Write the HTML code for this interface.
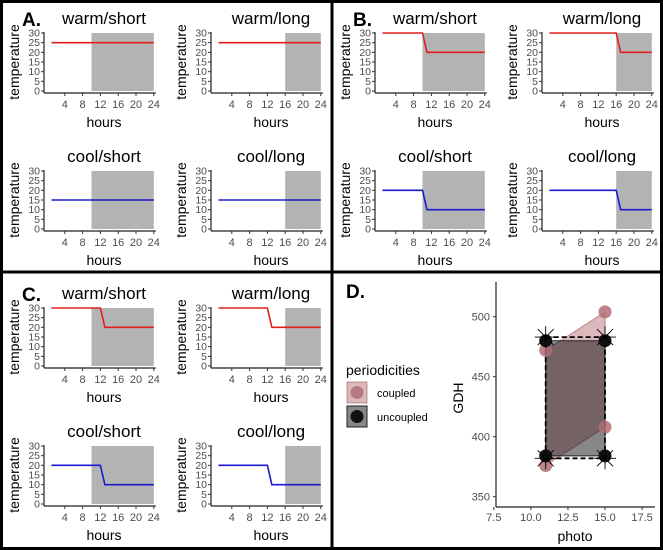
<!DOCTYPE html>
<html><head><meta charset="utf-8">
<style>
html,body{margin:0;padding:0;background:#fff;}
svg{display:block;font-family:"Liberation Sans",sans-serif;}
</style></head>
<body>
<svg id="fig" width="663" height="550" viewBox="0 0 663 550" xmlns="http://www.w3.org/2000/svg">
<rect x="0" y="0" width="663" height="550" fill="#fff"/>
<g id="panels"></g>
<g id="pd"></g>
<g fill="none" stroke="#000" stroke-width="3">
<rect x="1.5" y="1.5" width="660" height="547"/>
<line x1="332" y1="0" x2="332" y2="550"/>
<line x1="0" y1="272" x2="663" y2="272"/>
</g>
</svg>
<script>
const NS="http://www.w3.org/2000/svg";
// ---- temperature panels data ----
const panelLabels=["A.","B.","C."];
const subTitles=["warm/short","warm/long","cool/short","cool/long"];
const yTicks=[0,5,10,15,20,25,30];
const xTicks=[4,8,12,16,20,24];
const nightStartShort=10;
const nightStartLong=16;
// Panel A series
const aHours=[1,24];
const aWarm=[25,25];
const aCool=[15,15];
// Panel B series
const bHoursShort=[1,10,11,24];
const bHoursLong=[1,16,17,24];
const bWarm=[30,30,20,20];
const bCool=[20,20,10,10];
// Panel C series
const cHours=[1,12,13,24];
const cWarm=[30,30,20,20];
const cCool=[20,20,10,10];
// Panel D data
const dPhotoCoupled=[11,15,15,11];
const dGdhCoupled=[376,408,504,472];
const dPhotoUncoupled=[11,15,15,11];
const dGdhUncoupled=[384,384,480,480];
const dRectPhoto=[11,15];
const dRectGdh=[382,483];
const dXTicks=[7.5,10.0,12.5,15.0,17.5];
const dYTicks=[350,400,450,500];

function el(tag,attrs,parent,text){const e=document.createElementNS(NS,tag);for(const k in attrs)e.setAttribute(k,attrs[k]);if(text!==undefined)e.textContent=text;parent.appendChild(e);return e;}

const panelSeries=[
 [[aHours,aWarm],[aHours,aWarm],[aHours,aCool],[aHours,aCool]],
 [[bHoursShort,bWarm],[bHoursLong,bWarm],[bHoursShort,bCool],[bHoursLong,bCool]],
 [[cHours,cWarm],[cHours,cWarm],[cHours,cCool],[cHours,cCool]]
];
const panelOrigins=[[0,0],[331,0],[0,275]];
const root=document.getElementById('panels');
panelSeries.forEach((series,p)=>{
  const [ox,oy]=panelOrigins[p];
  const pg=el('g',{},root);
  
  
  const lab=el('text',{x:ox+22,y:oy+26,'font-size':19,'font-weight':'bold'},pg,panelLabels[p]);
  
  
  series.forEach((s,i)=>{
    const sx=ox+44+(i%2)*167, sy=oy+33+Math.floor(i/2)*138;
    const g=el('g',{},pg);
    
    
    const x=h=>sx+3+h*4.45, y=t=>sy+58-t*(58/30);
    const isLong=i%2===1;
    const ns=isLong?nightStartLong:nightStartShort;
    const sh=el('rect',{x:x(ns),y:y(30),width:x(24)-x(ns),height:y(0)-y(30),fill:'#b3b3b3'},g);
    
    
    const [hs,ts]=s;
    const pts=hs.map((h,k)=>x(h)+','+y(ts[k])).join(' ');
    const ln=el('polyline',{points:pts,fill:'none',stroke:i<2?'#e0201b':'#1a1ad0','stroke-width':1.6},g);
    
    
    el('line',{x1:sx,y1:sy-1,x2:sx,y2:y(0)+2,stroke:'#222','stroke-width':1.2},g);
    el('line',{x1:sx,y1:y(0)+2,x2:x(24)+2,y2:y(0)+2,stroke:'#222','stroke-width':1.2},g);
    yTicks.forEach(t=>{
      el('line',{x1:sx-3,y1:y(t),x2:sx,y2:y(t),stroke:'#333','stroke-width':1},g);
      const tl=el('text',{x:sx-4,y:y(t)+3.5,'font-size':10.5,fill:'#4d4d4d','text-anchor':'end'},g,t);
      
      
    });
    xTicks.forEach(t=>{
      el('line',{x1:x(t),y1:y(0)+2,x2:x(t),y2:y(0)+5,stroke:'#333','stroke-width':1},g);
      const tl=el('text',{x:x(t),y:y(0)+17,'font-size':11,fill:'#4d4d4d','text-anchor':'middle'},g,t);
      
      
    });
    const tt=el('text',{x:sx+60,y:sy-9,'font-size':17,'text-anchor':'middle'},g,subTitles[i]);
    
    
    const xl=el('text',{x:sx+60,y:y(0)+36,'font-size':14,'text-anchor':'middle'},g,'hours');
    
    
    const yl=el('text',{x:0,y:0,'font-size':14,'text-anchor':'middle',transform:`translate(${sx-25},${sy+29}) rotate(-90)`},g,'temperature');
    
    
  });
});

// ---- Panel D ----
const pd=document.getElementById('pd');
const dx=v=>545.7+(v-11)*14.83, dy=v=>436.7-(v-400)*1.2;
el('text',{x:346,y:298,'font-size':19,'font-weight':'bold'},pd,'D.');
const cpoly=el('polygon',{points:dPhotoCoupled.map((v,k)=>dx(v)+','+dy(dGdhCoupled[k])).join(' '),fill:'rgba(176,100,108,0.45)',stroke:'rgba(150,90,95,0.6)','stroke-width':1},pd);


const upoly=el('polygon',{points:dPhotoUncoupled.map((v,k)=>dx(v)+','+dy(dGdhUncoupled[k])).join(' '),fill:'rgba(0,0,0,0.47)',stroke:'#222','stroke-width':1},pd);


const dr=el('rect',{x:dx(dRectPhoto[0]),y:dy(dRectGdh[1]),width:dx(dRectPhoto[1])-dx(dRectPhoto[0]),height:dy(dRectGdh[0])-dy(dRectGdh[1]),fill:'none',stroke:'#000','stroke-width':1.8,'stroke-dasharray':'5,3'},pd);


dPhotoCoupled.forEach((v,k)=>{
  const c=el('circle',{cx:dx(v),cy:dy(dGdhCoupled[k]),r:6.5,fill:'rgba(176,110,115,0.85)'},pd);
  
  
});
dPhotoUncoupled.forEach((v,k)=>{
  const c=el('circle',{cx:dx(v),cy:dy(dGdhUncoupled[k]),r:6.5,fill:'#111'},pd);
  
  
});
// asterisks at dashed rectangle corners
dRectPhoto.forEach(px=>dRectGdh.forEach(gv=>{
  const cx=dx(px),cy=dy(gv),g=el('g',{stroke:'#000','stroke-width':0.9},pd);
  
  
  el('line',{x1:cx-11,y1:cy,x2:cx+11,y2:cy},g);
  el('line',{x1:cx,y1:cy-11,x2:cx,y2:cy+11},g);
  el('line',{x1:cx-8,y1:cy-8,x2:cx+8,y2:cy+8},g);
  el('line',{x1:cx-8,y1:cy+8,x2:cx+8,y2:cy-8},g);
}));
// axes
el('line',{x1:496,y1:282,x2:496,y2:507,stroke:'#222','stroke-width':1.2},pd);
el('line',{x1:496,y1:507,x2:655,y2:507,stroke:'#222','stroke-width':1.2},pd);
dYTicks.forEach(t=>{
  el('line',{x1:493,y1:dy(t),x2:496,y2:dy(t),stroke:'#333'},pd);
  const tl=el('text',{x:490,y:dy(t)+4,'font-size':11,fill:'#4d4d4d','text-anchor':'end'},pd,t);
  
  
});
dXTicks.forEach(t=>{
  el('line',{x1:dx(t),y1:507,x2:dx(t),y2:510,stroke:'#333'},pd);
  const tl=el('text',{x:dx(t),y:521,'font-size':11,fill:'#4d4d4d','text-anchor':'middle'},pd,t.toFixed(1));
  
  
});
const px=el('text',{x:575,y:541,'font-size':14,'text-anchor':'middle'},pd,'photo');


const py=el('text',{x:0,y:0,'font-size':14,'text-anchor':'middle',transform:'translate(463,398) rotate(-90)'},pd,'GDH');


// legend
const lg=el('g',{},pd);


el('text',{x:346,y:375,'font-size':14},lg,'periodicities');
el('rect',{x:347,y:382,width:20,height:21,fill:'rgba(176,100,108,0.45)',stroke:'rgba(150,90,95,0.6)'},lg);
el('circle',{cx:357,cy:392.5,r:6.5,fill:'rgba(176,110,115,0.85)'},lg);
el('rect',{x:347,y:406,width:20,height:21,fill:'rgba(0,0,0,0.47)',stroke:'#222'},lg);
el('circle',{cx:357,cy:416.5,r:6.5,fill:'#111'},lg);
const l1=el('text',{x:377,y:397,'font-size':11},lg,'coupled');


const l2=el('text',{x:377,y:421,'font-size':11},lg,'uncoupled');


</script>
</body></html>
